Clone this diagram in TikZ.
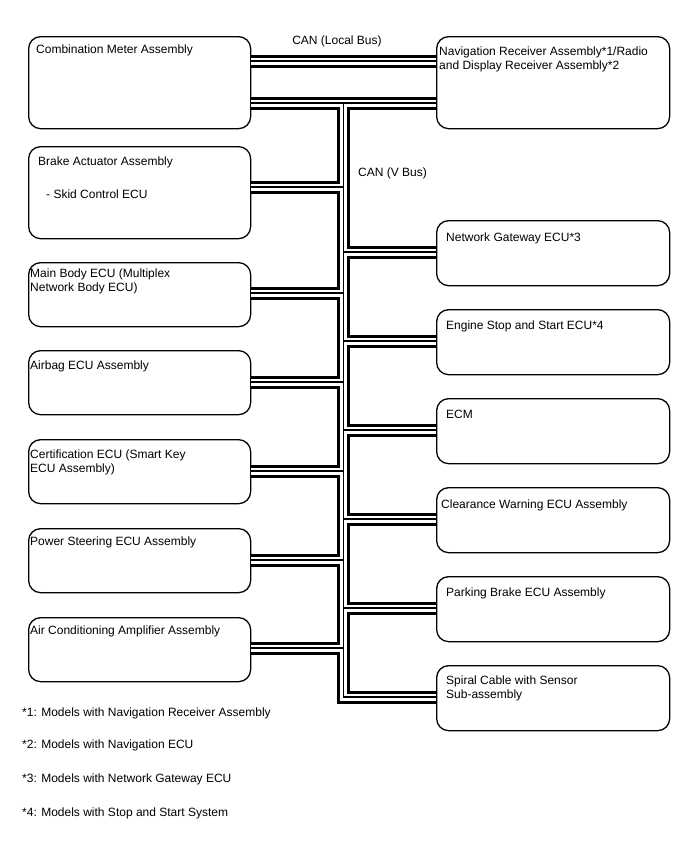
\documentclass[tikz,border=0pt]{standalone}
\usepackage{fontspec}
\setmainfont{Liberation Sans}
\begin{document}
\begin{tikzpicture}[x=1pt,y=-1pt,
  ecu/.style={draw,line width=1.3pt,rounded corners=12pt,inner sep=0pt,anchor=north west},
  lbl/.style={anchor=north west,align=left,inner sep=0pt,font=\fontsize{12}{14}\selectfont},
  line join=miter]
\useasboundingbox (0,0) rectangle (688,852);
% left column
\node[ecu,minimum width=222pt,minimum height=92pt] (cm) at (28,36) {};
\node[ecu,minimum width=222pt,minimum height=92pt] (brake) at (28,146) {};
\node[ecu,minimum width=222pt,minimum height=64pt] (body) at (28,262) {};
\node[ecu,minimum width=222pt,minimum height=64pt] (airbag) at (28,350) {};
\node[ecu,minimum width=222pt,minimum height=64pt] (cert) at (28,439) {};
\node[ecu,minimum width=222pt,minimum height=64pt] (eps) at (28,528) {};
\node[ecu,minimum width=222pt,minimum height=64pt] (ac) at (28,617) {};
% right column
\node[ecu,minimum width=233pt,minimum height=92pt] (nav) at (436,36) {};
\node[ecu,minimum width=233pt,minimum height=65pt] (gw) at (436,220) {};
\node[ecu,minimum width=233pt,minimum height=65pt] (ess) at (436,309) {};
\node[ecu,minimum width=233pt,minimum height=65pt] (ecm) at (436,398) {};
\node[ecu,minimum width=233pt,minimum height=65pt] (cw) at (436,487) {};
\node[ecu,minimum width=233pt,minimum height=65pt] (pb) at (436,576) {};
\node[ecu,minimum width=233pt,minimum height=65pt] (sc) at (436,665) {};
% labels
\node[lbl] (cmt) at (36,44.5) {Combination Meter Assembly};
\node[lbl] (braket) at (38,157) {Brake Actuator Assembly};
\node[lbl] (skidt) at (46,190) {- Skid Control ECU};
\node[lbl] (bodyt) at (30,269) {Main Body ECU (Multiplex\\Network Body ECU)};
\node[lbl] (airbagt) at (30,361) {Airbag ECU Assembly};
\node[lbl] (certt) at (30,450) {Certification ECU (Smart Key\\ECU Assembly)};
\node[lbl] (epst) at (30,537) {Power Steering ECU Assembly};
\node[lbl] (act) at (30,626) {Air Conditioning Amplifier Assembly};
\node[lbl] (navt) at (439,47) {Navigation Receiver Assembly*1/Radio\\and Display Receiver Assembly*2};
\node[lbl] (gwt) at (446,233) {Network Gateway ECU*3};
\node[lbl] (esst) at (446,321) {Engine Stop and Start ECU*4};
\node[lbl] (ecmt) at (446,410) {ECM};
\node[lbl] (cwt) at (441,500) {Clearance Warning ECU Assembly};
\node[lbl] (pbt) at (446,588) {Parking Brake ECU Assembly};
\node[lbl] (sct) at (446,676) {Spiral Cable with Sensor\\Sub-assembly};
\node[lbl,anchor=north] (canl) at (337,35.5) {CAN (Local Bus)};
\node[lbl] (canv) at (358,167.5) {CAN (V Bus)};
\node[lbl] (fn1) at (22,707.5) {*1: Models with Navigation Receiver Assembly};
\node[lbl] (fn2) at (22,739.5) {*2: Models with Navigation ECU};
\node[lbl] (fn3) at (22,773.5) {*3: Models with Network Gateway ECU};
\node[lbl] (fn4) at (22,807.5) {*4: Models with Stop and Start System};
% buses
\coordinate (vx) at (343.5,0);
\foreach \w/\c in {13/black,7/white,1.1/black}{
  \draw[line width=\w pt,\c] (cm.east |- 0,61) -- (nav.west |- 0,61);
  \draw[line width=\w pt,\c] (cm.east |- 0,103) -- (nav.west |- 0,103);
  \draw[line width=\w pt,\c] (vx |- 0,103) -- (vx |- 0,697) -- (sc.west |- 0,697);
  \foreach \n/\y in {brake/187,body/293,airbag/382,cert/471,eps/560,ac/648}{
    \draw[line width=\w pt,\c] (vx |- 0,\y) -- (\n.east |- 0,\y);
  }
  \foreach \n/\y in {gw/252,ess/341,ecm/430,cw/519,pb/608}{
    \draw[line width=\w pt,\c] (vx |- 0,\y) -- (\n.west |- 0,\y);
  }
}
\end{tikzpicture}
\end{document}
